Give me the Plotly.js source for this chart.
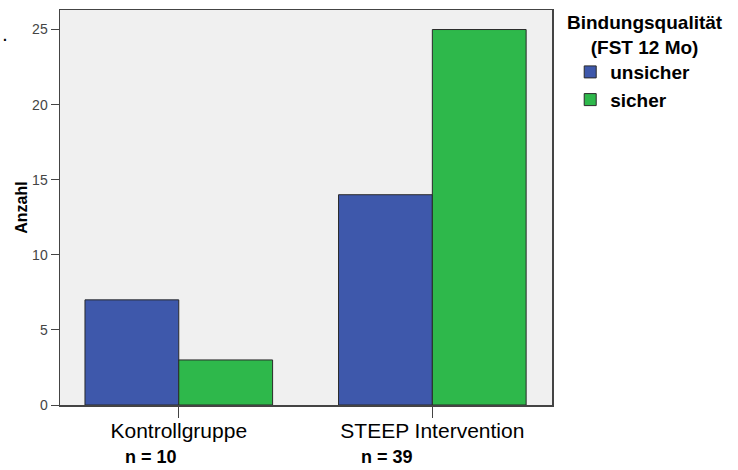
<!DOCTYPE html>
<html>
<head>
<meta charset="utf-8">
<script src="https://cdn.plot.ly/plotly-3.0.1.min.js"></script>
<style>html,body{margin:0;padding:0;background:#fff;}#chart{width:738px;height:470px;}</style>
</head>
<body>
<div id="chart"></div>
<script>
const categories = ['Kontrollgruppe', 'STEEP Intervention'];
const unsicherValues = [7, 14];
const sicherValues = [3, 25];
const seriesNames = ['unsicher', 'sicher'];
const nLabels = ['n = 10', 'n = 39'];
const yTicks = [0, 5, 10, 15, 20, 25];
const yAxisTitle = 'Anzahl';
const legendTitle = 'Bindungsqualität<br>(FST 12 Mo)';

const FONT = 'Arial, "Liberation Sans", sans-serif';

const traces = [
  {type: 'bar', x: categories, y: unsicherValues, name: seriesNames[0],
   marker: {color: '#3e58ab', line: {color: '#2a2a2a', width: 1}}},
  {type: 'bar', x: categories, y: sicherValues, name: seriesNames[1],
   marker: {color: '#2eb84b', line: {color: '#2a2a2a', width: 1}}}
];

const nOffsets = [-0.11, -0.18];
const annotations = nLabels.map((t, i) => ({
  text: '<b>' + t + '</b>', x: i + nOffsets[i], xref: 'x', y: -0.163, yref: 'paper',
  xanchor: 'center', yanchor: 'bottom', showarrow: false,
  font: {family: FONT, size: 18, color: '#000'}
}));
annotations.push({text: '<b>' + legendTitle + '</b>', xref: 'paper', yref: 'paper',
  x: 1.189, y: 0.937, xanchor: 'center', yanchor: 'middle', align: 'center', showarrow: false,
  font: {family: FONT, size: 19, color: '#000'}});
annotations.push({text: '<b>.</b>', xref: 'paper', yref: 'paper', x: -0.112, y: 0.935,
  xanchor: 'center', yanchor: 'middle', showarrow: false, font: {family: FONT, size: 14, color: '#000'}});

const layout = {
  width: 738, height: 470,
  margin: {l: 60, r: 186, t: 10, b: 65, autoexpand: false},
  paper_bgcolor: '#ffffff',
  plot_bgcolor: '#f0f0f0',
  barmode: 'group',
  bargap: 0.26,
  bargroupgap: 0,
  font: {family: FONT},
  xaxis: {
    type: 'category', range: [-0.4685, 1.472], automargin: false,
    showline: true, mirror: true, linecolor: '#444', linewidth: 1.5,
    ticks: 'outside', ticklen: 11, tickcolor: '#444', tickwidth: 1,
    ticklabelstandoff: -5,
    tickfont: {family: FONT, size: 21, color: '#000'},
    showgrid: false, zeroline: false, fixedrange: true
  },
  yaxis: {
    range: [0, 26.3], tickvals: yTicks, automargin: false,
    showline: true, mirror: true, linecolor: '#444', linewidth: 1.5,
    ticks: 'outside', ticklen: 8, tickcolor: '#444', tickwidth: 1,
    tickfont: {family: FONT, size: 14, color: '#444'},
    showgrid: false, zeroline: false,
    title: {text: '<b>' + yAxisTitle + '</b>', font: {family: FONT, size: 16, color: '#000'}, standoff: 0},
    fixedrange: true
  },
  legend: {
    x: 1.037, xanchor: 'left', y: 0.891, yanchor: 'top',
    font: {family: FONT, size: 19, color: '#000', weight: 'bold'},
    bgcolor: 'rgba(0,0,0,0)', itemwidth: 30, tracegroupgap: 0
  },
  annotations: annotations,
  showlegend: true
};

Plotly.newPlot('chart', traces, layout, {displayModeBar: false, staticPlot: true});
</script>
</body>
</html>
